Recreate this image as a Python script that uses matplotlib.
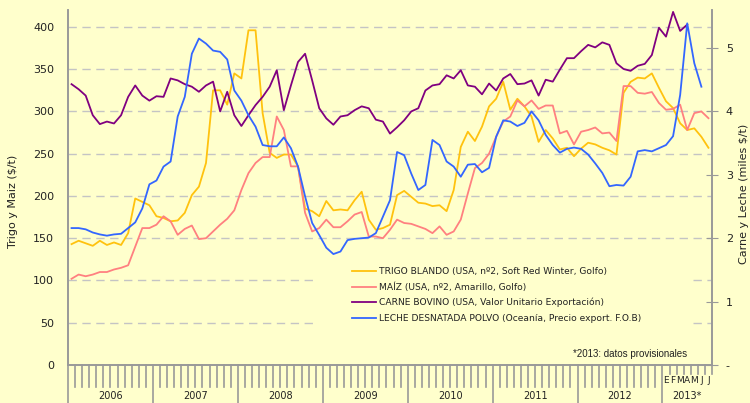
import numpy as np
import matplotlib
matplotlib.use("Agg")
import matplotlib.pyplot as plt
from matplotlib.patches import Rectangle

# monthly series, Jan 2006 onwards
trigo = [143, 147, 144, 141, 147, 142, 145, 142, 156, 197, 193, 189, 176, 174, 170, 171, 180, 201, 211, 239, 325, 325, 308,
         345, 339, 396, 396, 298, 251, 245, 249, 249, 235, 185, 182, 176, 194, 183, 184, 183, 195, 205, 172, 160, 162,
         166, 201, 206, 199, 192, 191, 188, 189, 182, 207, 258, 276, 265, 282, 306, 315, 335, 302, 315, 306, 294, 264, 278,
         268, 255, 257, 247, 256, 263, 261, 257, 254, 249, 322, 335, 340, 339, 345, 328, 312, 304, 286, 278, 280, 270, 257]
maiz = [102, 107, 105, 107, 110, 110, 113, 115, 118, 140, 162, 162, 166, 176, 170, 154, 161, 165, 149, 150, 158, 166, 173,
        183, 207, 227, 239, 246, 246, 294, 278, 235, 235, 180, 158, 162, 172, 163, 163, 170, 178, 181, 152, 152, 150,
        160, 172, 168, 167, 164, 161, 156, 164, 154, 158, 172, 203, 233, 239, 250, 270, 288, 294, 313, 306, 313, 303, 307,
        307, 274, 277, 261, 276, 278, 281, 274, 275, 265, 330, 330, 322, 321, 323, 310, 302, 303, 308, 278, 298, 300, 292]
carne = [4.43, 4.35, 4.25, 3.94, 3.80, 3.84, 3.81, 3.94, 4.23, 4.41, 4.25, 4.17, 4.24, 4.23, 4.52, 4.49, 4.43, 4.39, 4.31, 4.41, 4.47, 4.00, 4.31,
         3.94, 3.77, 3.94, 4.10, 4.23, 4.39, 4.65, 4.02, 4.41, 4.78, 4.91, 4.49, 4.05, 3.89, 3.79, 3.92, 3.94, 4.02, 4.08, 4.05, 3.87, 3.84,
         3.65, 3.75, 3.86, 4.00, 4.05, 4.33, 4.41, 4.43, 4.57, 4.52, 4.65, 4.41, 4.39, 4.27, 4.44, 4.33, 4.52, 4.59, 4.43, 4.44, 4.49, 4.25, 4.50,
         4.47, 4.66, 4.84, 4.84, 4.95, 5.05, 5.01, 5.09, 5.05, 4.76, 4.67, 4.64, 4.72, 4.75, 4.89, 5.32, 5.18, 5.57, 5.27, 5.37]
leche = [2.16, 2.16, 2.14, 2.09, 2.06, 2.04, 2.06, 2.07, 2.16, 2.25, 2.47, 2.85, 2.91, 3.13, 3.21, 3.92, 4.23, 4.91, 5.15, 5.07, 4.96, 4.94, 4.82,
         4.33, 4.17, 3.94, 3.76, 3.47, 3.45, 3.45, 3.59, 3.42, 3.13, 2.66, 2.24, 2.05, 1.85, 1.75, 1.79, 1.97, 1.99, 2.00, 2.01, 2.08, 2.34,
         2.60, 3.36, 3.31, 3.02, 2.76, 2.84, 3.55, 3.47, 3.21, 3.13, 2.97, 3.16, 3.17, 3.04, 3.11, 3.60, 3.86, 3.84, 3.77, 3.82, 4.00, 3.86, 3.63,
         3.47, 3.35, 3.41, 3.43, 3.41, 3.32, 3.18, 3.03, 2.82, 2.84, 2.83, 2.97, 3.37, 3.39, 3.37, 3.42, 3.47, 3.61, 4.26, 5.39, 4.76, 4.39]

years = ['2006', '2007', '2008', '2009', '2010', '2011', '2012', '2013*']
meses_2013 = ['E', 'F', 'M', 'A', 'M', 'J', 'J']
labels = ['TRIGO BLANDO (USA, nº2, Soft Red Winter, Golfo)',
          'MAÍZ (USA, nº2, Amarillo, Golfo)',
          'CARNE BOVINO (USA, Valor Unitario Exportación)',
          'LECHE DESNATADA POLVO (Oceanía, Precio export. F.O.B)']
colors = ['#FFC20E', '#FF8080', '#800080', '#3366FF']

bg = '#FFFFCC'
grey = '#999999'
n_months = 91

fig = plt.figure(figsize=(7.5, 4.03), dpi=100, facecolor=bg)
ax = fig.add_axes([68/750, 1-365/403, 644/750, 355/403])
ax.set_facecolor(bg)
ax2 = ax.twinx()

ax.set_xlim(0, n_months)
ax.set_ylim(0, 420)
ax2.set_ylim(0, 5.6)

ax.set_yticks(np.arange(0, 401, 50))
ax.yaxis.grid(True, color='#C4C4C4', linestyle=(0, (6, 4)), linewidth=1)
ax.set_axisbelow(True)
ax.tick_params(axis='y', length=0, pad=10, labelsize=8, labelcolor='#222222')
ax.set_xticks([])

ax2.set_yticks([0, 1, 2, 3, 4, 5])
ax2.set_yticklabels(['-', '1', '2', '3', '4', '5'])
ax2.tick_params(axis='y', direction='inout', length=8, color=grey, pad=6, labelsize=8, labelcolor='#222222')

for a in (ax, ax2):
    a.spines['top'].set_visible(False)
    for s in ('left', 'right', 'bottom'):
        a.spines[s].set_color(grey)
        a.spines[s].set_linewidth(1.2)

# box behind legend hides the grid
ax.add_patch(Rectangle((0.388, 0.008), 0.575, 0.318, transform=ax.transAxes,
                       facecolor=bg, edgecolor='none', zorder=1))

x = np.arange(n_months) + 0.5
l1, = ax.plot(x[:len(trigo)], trigo, color=colors[0], lw=1.3, zorder=3)
l2, = ax.plot(x[:len(maiz)], maiz, color=colors[1], lw=1.3, zorder=3)
l3, = ax2.plot(x[:len(carne)], carne, color=colors[2], lw=1.3)
l4, = ax2.plot(x[:len(leche)], leche, color=colors[3], lw=1.3)

leg = ax2.legend([l1, l2, l3, l4], labels, loc='upper left', bbox_to_anchor=(0.441, 0.276),
                 frameon=False, fontsize=6.6, handlelength=2.6, handletextpad=0.3,
                 labelspacing=0.68, borderaxespad=0, borderpad=0)
for t in leg.get_texts():
    t.set_color('#222222')

ax2.text(0.962, 0.03, '*2013: datos provisionales', transform=ax.transAxes, ha='right', va='center',
         fontsize=7, family='Liberation Sans', color='#222222')

# month ticks and year separators below the axis
tr = ax.get_xaxis_transform()
for m in range(n_months + 1):
    if m % 12 == 0:
        ax.plot([m, m], [0, -0.12], transform=tr, color=grey, lw=1.2, clip_on=False)
    elif m > 84:
        ax.plot([m, m], [0, -0.025], transform=tr, color=grey, lw=1.2, clip_on=False)
    else:
        ax.plot([m, m], [0, -0.062], transform=tr, color=grey, lw=1.2, clip_on=False)

for k, yr in enumerate(years):
    xc = 12*k + 6 if k < 7 else 84 + 3.5
    ax.text(xc, -0.086, yr, transform=tr, ha='center', va='center', fontsize=7, color='#222222')
for k, m in enumerate(meses_2013):
    ax.text(84 + k + 0.5, -0.045, m, transform=tr, ha='center', va='center', fontsize=6.5, color='#222222')

fig.text(8/750, 0.5, 'Trigo y Maiz ($/t)', rotation=90, ha='left', va='center', fontsize=8, color='#222222')
fig.text(749/750, 0.52, 'Carne y Leche (miles $/t)', rotation=90, ha='right', va='center', fontsize=8, color='#222222')

fig.savefig('out.png', dpi=100, facecolor=bg)
